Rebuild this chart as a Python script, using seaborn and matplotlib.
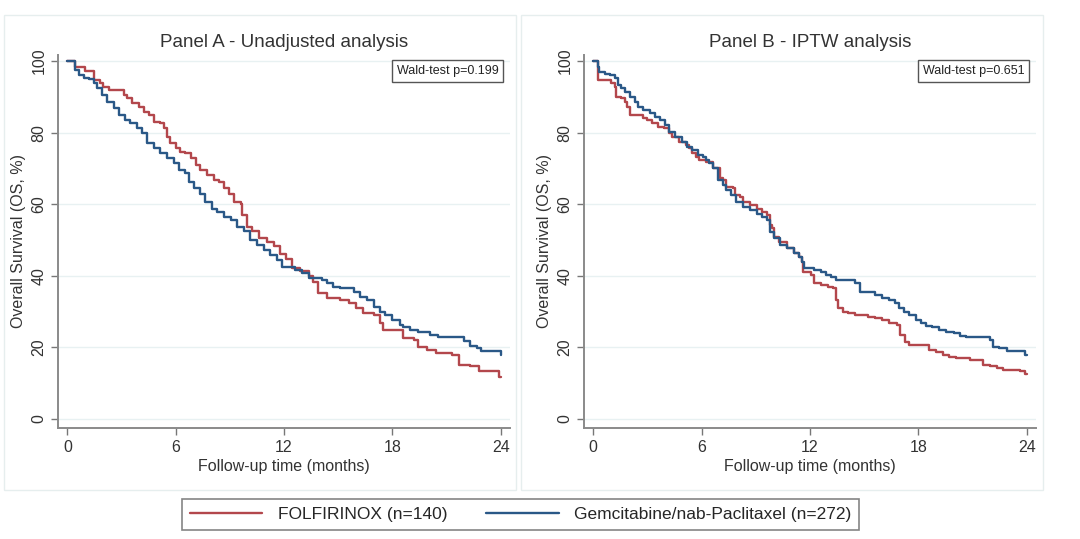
import numpy as np
import pandas as pd
import matplotlib
matplotlib.use("Agg")
import matplotlib.pyplot as plt
from matplotlib.patches import Rectangle
import seaborn as sns

# Kaplan-Meier curves (time in months, survival in %)
a_folf_t = [0, 0.44, 1.0, 1.46, 1.83, 2.0, 2.29, 3.12, 3.31, 3.58, 3.95, 4.23, 4.51, 4.79, 5.15, 5.34,
            5.52, 5.71, 5.99, 6.26, 6.54, 6.82, 7.1, 7.37, 7.74, 8.11, 8.39, 8.67, 8.94, 9.22, 9.59,
            9.68, 9.96, 10.24, 10.6, 11.07, 11.44, 11.8, 12.1, 12.45, 12.9, 13.4, 13.6, 13.9, 14.4,
            15.1, 15.6, 15.96, 16.4, 17.0, 17.3, 17.5, 18.6, 19.2, 19.4, 19.9, 20.4, 21.3, 21.7,
            22.3, 22.8, 23.9, 24.0]
a_folf_s = [100, 98.4, 97.2, 94.7, 93.8, 92.8, 91.9, 90.5, 89.6, 88.2, 87.3, 85.8, 84.9, 83.0, 82.6, 81.2,
            78.9, 77.0, 75.6, 74.7, 74.2, 72.8, 70.9, 69.5, 68.2, 66.8, 66.3, 64.4, 63.0, 60.7, 60.2,
            57.0, 53.7, 52.4, 50.5, 49.5, 48.3, 46.0, 44.7, 42.1, 41.4, 40.0, 38.4, 35.1, 33.7,
            33.2, 32.3, 30.9, 29.5, 29.1, 26.7, 24.9, 22.6, 22.1, 20.2, 19.3, 18.4, 17.9, 15.1,
            14.7, 13.3, 11.7, 11.7]
a_gem_t = [0, 0.44, 0.63, 0.91, 1.18, 1.46, 1.64, 1.92, 2.2, 2.57, 2.85, 3.22, 3.49, 3.86, 4.14, 4.42,
           4.79, 5.15, 5.52, 5.9, 6.17, 6.54, 6.73, 7.0, 7.37, 7.65, 8.02, 8.3, 8.67, 9.04, 9.4, 9.77,
           10.1, 10.5, 10.9, 11.25, 11.6, 11.9, 12.6, 13.0, 13.4, 14.1, 14.4, 14.7, 15.1, 15.9, 16.2,
           16.6, 17.0, 17.3, 17.6, 18.0, 18.4, 18.6, 19.0, 19.4, 20.1, 20.5, 21.97, 22.3, 22.7, 22.9,
           23.99, 24.0]
a_gem_s = [100, 97.5, 96.1, 95.2, 95.0, 93.8, 92.4, 90.5, 88.6, 86.8, 84.9, 83.5, 82.6, 81.2, 79.8, 77.0,
           75.6, 74.2, 72.8, 71.4, 69.5, 68.6, 66.3, 64.4, 63.0, 60.7, 58.8, 57.9, 56.5, 55.6, 53.7, 52.4,
           50.0, 48.6, 47.2, 45.8, 44.4, 42.5, 41.6, 40.7, 39.3, 38.8, 37.9, 37.0, 36.5, 35.6, 34.2,
           33.3, 31.4, 30.0, 29.1, 27.7, 26.3, 25.8, 24.9, 24.4, 23.5, 23.0, 21.7, 20.3, 19.8, 18.9,
           18.0, 18.0]

b_folf_t = [0, 0.24, 0.28, 0.99, 1.18, 1.27, 1.55, 1.74, 1.84, 2.02, 2.77, 2.96, 3.24, 3.61, 3.9, 4.18,
            4.36, 4.74, 5.11, 5.3, 5.49, 5.67, 5.86, 6.24, 6.61, 6.99, 7.17, 7.36, 7.73, 7.83, 8.11,
            8.3, 8.67, 9.04, 9.33, 9.61, 9.79, 9.89, 9.98, 10.26, 10.73, 11.1, 11.39, 11.57, 11.63,
            12.04, 12.23, 12.6, 12.98, 13.26, 13.45, 13.54, 13.82, 14.1, 14.48, 15.23, 15.6, 15.97,
            16.35, 16.82, 17.0, 17.28, 17.47, 18.6, 18.97, 19.35, 19.72, 20.1, 20.85, 21.6, 21.97,
            22.35, 22.7, 23.65, 23.93, 24.0]
b_folf_s = [100, 98.9, 94.7, 93.8, 92.8, 90.0, 89.6, 88.6, 87.3, 84.9, 84.0, 83.5, 82.6, 81.7, 81.2, 79.8,
            78.9, 77.5, 76.5, 75.6, 74.2, 73.3, 72.3, 71.9, 70.0, 67.2, 66.8, 64.9, 64.4, 62.6, 62.1,
            60.7, 59.8, 58.8, 57.9, 57.0, 54.2, 53.3, 50.9, 49.5, 47.9, 46.3, 45.3, 43.9, 41.2,
            40.2, 37.9, 37.4, 37.0, 36.5, 33.2, 30.9, 30.0, 29.5, 29.1, 28.6, 28.2, 27.7,
            26.7, 26.3, 23.5, 21.6, 20.7, 19.3, 18.8, 17.9, 17.4, 17.0, 16.5, 15.1, 14.7,
            14.2, 13.7, 13.3, 12.6, 12.6]
b_gem_t = [0, 0.24, 0.34, 0.62, 0.9, 1.18, 1.37, 1.55, 1.74, 2.02, 2.3, 2.49, 2.77, 3.15, 3.43, 3.71,
           3.99, 4.18, 4.55, 4.93, 5.21, 5.49, 5.77, 6.05, 6.24, 6.43, 6.61, 6.89, 7.17, 7.36, 7.64,
           7.92, 8.3, 8.67, 9.04, 9.33, 9.61, 9.79, 9.98, 10.36, 10.73, 11.1, 11.39, 11.57, 11.67,
           12.23, 12.6, 12.89, 13.17, 13.45, 14.48, 14.76, 15.6, 15.97, 16.35, 16.72, 16.91, 17.19,
           17.47, 17.85, 18.13, 18.41, 18.78, 19.16, 19.53, 20.0, 20.28, 20.66, 21.97, 22.15, 22.44,
           22.9, 23.93, 24.0]
b_gem_s = [100, 98.4, 97.0, 96.5, 96.1, 95.2, 93.3, 92.4, 91.4, 90.0, 88.6, 87.3, 86.3, 85.4, 84.5, 83.5,
           82.1, 80.3, 78.9, 77.5, 76.1, 75.2, 73.7, 73.3, 72.3, 71.4, 70.0, 66.8, 65.4, 64.0, 62.6,
           60.7, 59.3, 58.4, 57.4, 56.5, 55.6, 52.3, 50.5, 48.6, 47.9, 46.5, 45.3, 43.9, 42.1,
           41.7, 41.0, 40.2, 39.8, 38.8, 37.9, 35.6, 34.6, 33.7, 33.2, 32.3, 30.9, 30.0,
           29.1, 27.7, 26.7, 26.0, 25.6, 24.9, 24.4, 23.9, 23.2, 23.0, 22.1, 20.2, 19.8,
           18.9, 18.0, 18.0]

arms = ["FOLFIRINOX (n=140)", "Gemcitabine/nab-Paclitaxel (n=272)"]
titles = ["Panel A - Unadjusted analysis", "Panel B - IPTW analysis"]
pvalues = ["Wald-test p=0.199", "Wald-test p=0.651"]
x_ticks = [0, 6, 12, 18, 24]
y_ticks = [0, 20, 40, 60, 80, 100]

colors = {arms[0]: "#b3474c", arms[1]: "#2a5887"}

def make_df(t1, s1, t2, s2):
    d1 = pd.DataFrame({"time": t1, "surv": s1, "arm": arms[0]})
    d2 = pd.DataFrame({"time": t2, "surv": s2, "arm": arms[1]})
    return pd.concat([d1, d2], ignore_index=True)

panels = [make_df(a_folf_t, a_folf_s, a_gem_t, a_gem_s),
          make_df(b_folf_t, b_folf_s, b_gem_t, b_gem_s)]

sns.set_theme(style="white")
plt.rcParams['font.family'] = ['Liberation Sans', 'DejaVu Sans']

fig = plt.figure(figsize=(10.8, 5.39), dpi=100)

# faint panel frames
for x0, w in [(0.004, 0.474), (0.482, 0.484)]:
    fig.patches.append(Rectangle((x0, 0.09), w, 0.882, transform=fig.transFigure,
                                 fill=False, edgecolor="#e6eeee", linewidth=1.0))

lefts = [0.054, 0.541]
handles = None
for i, df in enumerate(panels):
    ax = fig.add_axes([lefts[i], 0.206, 0.418, 0.692])
    sns.lineplot(data=df, x="time", y="surv", hue="arm", palette=colors,
                 estimator=None, drawstyle="steps-post", linewidth=1.7, ax=ax)
    handles, labels = ax.get_legend_handles_labels()
    ax.get_legend().remove()
    ax.set_xlim(-0.5, 24.5)
    ax.set_ylim(-2.5, 101.7)
    ax.set_xticks(x_ticks)
    ax.set_yticks(y_ticks)
    ax.set_xticklabels([str(v) for v in x_ticks], fontsize=11.5, color="#333333")
    ax.set_yticklabels([str(v) for v in y_ticks], fontsize=11.5, color="#333333",
                       rotation=90, va="center")
    ax.tick_params(axis="both", direction="out", length=5, width=1, color="#777777",
                   bottom=True, left=True)
    for s in ["top", "right"]:
        ax.spines[s].set_visible(False)
    for s in ["left", "bottom"]:
        ax.spines[s].set_color("#8a8a8a")
        ax.spines[s].set_linewidth(1.4)
    ax.grid(axis="y", color="#e8f1f2", linewidth=1.0)
    ax.set_axisbelow(True)
    ax.set_xlabel("Follow-up time (months)", fontsize=11.5, color="#333333", labelpad=3)
    ax.set_ylabel("Overall Survival (OS, %)", fontsize=11.5, color="#333333", labelpad=4)
    ax.set_title(titles[i], fontsize=13.5, color="#333333", pad=6)
    ax.text(0.975, 0.972, pvalues[i], transform=ax.transAxes, ha="right", va="top",
            fontsize=9, color="#222222",
            bbox=dict(boxstyle="square,pad=0.4", facecolor="white", edgecolor="#555555", linewidth=1))

leg = fig.legend(handles, labels, loc="center", bbox_to_anchor=(0.482, 0.046), ncol=2,
                 fontsize=12.5, frameon=True, fancybox=False, handlelength=4.2,
                 columnspacing=2.2, borderpad=0.45, handletextpad=0.9)
leg.get_frame().set_edgecolor("#666666")
leg.get_frame().set_linewidth(1.2)
for line in leg.get_lines():
    line.set_linewidth(1.7)

fig.savefig("out.png", dpi=100)
